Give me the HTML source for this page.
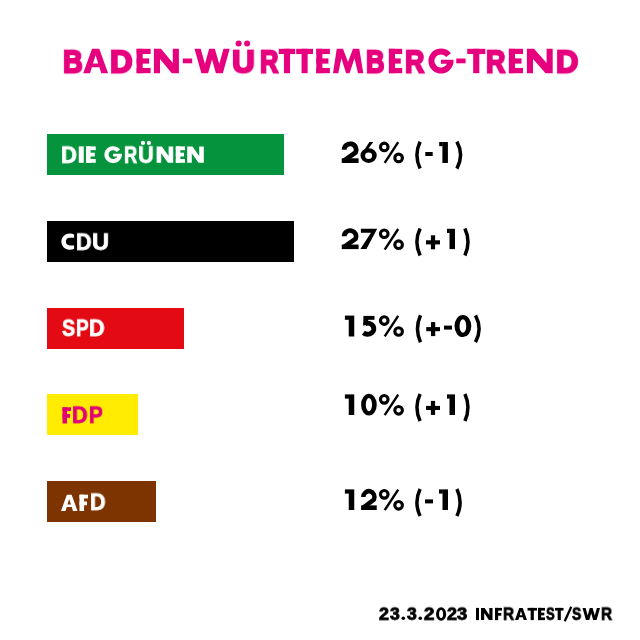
<!DOCTYPE html>
<html><head><meta charset="utf-8"><style>
html,body{margin:0;padding:0;background:#fff;width:640px;height:640px;overflow:hidden;position:relative}
.t{position:absolute;will-change:transform;font-family:"Liberation Sans",sans-serif;font-weight:bold;line-height:1.5;white-space:pre;transform-origin:0 0}
.b{position:absolute}
svg{position:absolute;left:0;top:0}
</style></head><body>
<div class="b" style="background:#05933d;left:47px;top:134px;width:237px;height:41px"></div>
<div class="b" style="background:#000;left:47px;top:221px;width:247px;height:41px"></div>
<div class="b" style="background:#e30a14;left:47px;top:308px;width:137px;height:41px"></div>
<div class="b" style="background:#ffec00;left:47px;top:394px;width:91px;height:41px"></div>
<div class="b" style="background:#7d3400;left:47px;top:481px;width:109px;height:41px"></div>
<svg width="640" height="640" viewBox="0 0 640 640">
<path d="M83.20 73.20 L92.04 48.80 L99.26 48.80 L108.10 73.20 L101.28 73.20 L99.41 67.27 L91.84 67.27 L90.02 73.20 Z M95.55 55.22 L98.21 63.56 L92.99 63.56 Z" fill="#e6007e" fill-rule="evenodd"/>
<rect x="136.60" y="48.80" width="6.10" height="24.40" fill="#e6007e"/>
<rect x="136.60" y="48.80" width="14.00" height="5.25" fill="#e6007e"/>
<rect x="136.60" y="58.38" width="12.54" height="5.25" fill="#e6007e"/>
<rect x="136.60" y="67.95" width="14.00" height="5.25" fill="#e6007e"/>
<path d="M153.90 73.20 L153.90 48.80 L161.00 48.80 L172.80 62.95 L172.80 48.80 L178.90 48.80 L178.90 73.20 L171.80 73.20 L160.00 59.05 L160.00 73.20 Z" fill="#e6007e" fill-rule="evenodd"/>
<path d="M194.50 48.80 L200.73 48.80 L204.92 63.98 L209.14 48.80 L214.78 48.80 L219.28 63.98 L223.47 48.80 L229.70 48.80 L222.84 73.20 L215.94 73.20 L211.99 59.54 L208.09 73.20 L201.40 73.20 Z" fill="#e6007e" fill-rule="evenodd"/>
<rect x="278.80" y="48.80" width="16.40" height="5.25" fill="#e6007e"/>
<rect x="283.95" y="48.80" width="6.10" height="24.40" fill="#e6007e"/>
<rect x="296.20" y="48.80" width="16.80" height="5.25" fill="#e6007e"/>
<rect x="301.55" y="48.80" width="6.10" height="24.40" fill="#e6007e"/>
<rect x="316.30" y="48.80" width="6.10" height="24.40" fill="#e6007e"/>
<rect x="316.30" y="48.80" width="13.60" height="5.25" fill="#e6007e"/>
<rect x="316.30" y="58.38" width="12.14" height="5.25" fill="#e6007e"/>
<rect x="316.30" y="67.95" width="13.60" height="5.25" fill="#e6007e"/>
<path d="M333.00 73.20 L336.76 48.80 L343.00 48.80 L348.00 62.07 L353.00 48.80 L359.24 48.80 L363.30 73.20 L358.00 73.20 L354.51 58.32 L349.60 73.20 L346.09 73.20 L341.39 58.32 L338.30 73.20 Z" fill="#e6007e" fill-rule="evenodd"/>
<rect x="388.90" y="48.80" width="6.10" height="24.40" fill="#e6007e"/>
<rect x="388.90" y="48.80" width="13.30" height="5.25" fill="#e6007e"/>
<rect x="388.90" y="58.38" width="11.84" height="5.25" fill="#e6007e"/>
<rect x="388.90" y="67.95" width="13.30" height="5.25" fill="#e6007e"/>
<g transform="translate(428.40,48.43) scale(25.20000,25.13200)"><path d="M0.894 0.192 A0.5 0.5 0 1 0 0.9975 0.45 L0.5 0.45 L0.5 0.611 L0.737 0.611 A0.262 0.262 0 1 1 0.706 0.339 Z" fill="#e6007e"/></g>
<rect x="467.20" y="48.80" width="18.10" height="5.25" fill="#e6007e"/>
<rect x="473.20" y="48.80" width="6.10" height="24.40" fill="#e6007e"/>
<rect x="508.90" y="48.80" width="6.10" height="24.40" fill="#e6007e"/>
<rect x="508.90" y="48.80" width="14.10" height="5.25" fill="#e6007e"/>
<rect x="508.90" y="58.38" width="12.64" height="5.25" fill="#e6007e"/>
<rect x="508.90" y="67.95" width="14.10" height="5.25" fill="#e6007e"/>
<path d="M526.90 73.20 L526.90 48.80 L534.02 48.80 L546.61 62.95 L546.61 48.80 L552.70 48.80 L552.70 73.20 L545.58 73.20 L532.99 59.05 L532.99 73.20 Z" fill="#e6007e" fill-rule="evenodd"/>
<rect x="182.80" y="58.50" width="9.40" height="4.80" fill="#e6007e"/>
<circle cx="238.6" cy="43.4" r="3.0" fill="#e6007e"/><circle cx="247.1" cy="43.4" r="3.0" fill="#e6007e"/>
<rect x="456.25" y="58.50" width="9.35" height="4.80" fill="#e6007e"/>
<rect x="78.75" y="146.40" width="5.00" height="16.40" fill="#fff"/>
<rect x="86.00" y="146.40" width="4.59" height="16.40" fill="#fff"/>
<rect x="86.00" y="146.40" width="9.75" height="3.77" fill="#fff"/>
<rect x="86.00" y="152.71" width="8.77" height="3.77" fill="#fff"/>
<rect x="86.00" y="159.03" width="9.75" height="3.77" fill="#fff"/>
<g transform="translate(104.40,146.15) scale(17.50000,16.89200)"><path d="M0.894 0.192 A0.5 0.5 0 1 0 0.9975 0.45 L0.5 0.45 L0.5 0.611 L0.737 0.611 A0.262 0.262 0 1 1 0.706 0.339 Z" fill="#fff"/></g>
<path d="M156.60 162.80 L156.60 146.40 L161.86 146.40 L168.60 155.91 L168.60 146.40 L173.20 146.40 L173.20 162.80 L167.94 162.80 L161.20 153.29 L161.20 162.80 Z" fill="#fff" fill-rule="evenodd"/>
<rect x="175.80" y="146.40" width="4.59" height="16.40" fill="#fff"/>
<rect x="175.80" y="146.40" width="9.20" height="3.77" fill="#fff"/>
<rect x="175.80" y="152.71" width="8.22" height="3.77" fill="#fff"/>
<rect x="175.80" y="159.03" width="9.20" height="3.77" fill="#fff"/>
<path d="M187.20 162.80 L187.20 146.40 L192.46 146.40 L199.20 155.91 L199.20 146.40 L203.80 146.40 L203.80 162.80 L198.54 162.80 L191.80 153.29 L191.80 162.80 Z" fill="#fff" fill-rule="evenodd"/>
<circle cx="143" cy="142.9" r="2.1" fill="#fff"/><circle cx="148.9" cy="142.9" r="2.1" fill="#fff"/>
<g transform="translate(61.40,233.40) scale(1.00000,0.95349)"><path d="M12.7 1.153 L12.7 4.6 L8.5 4.6 A4 4 0 0 0 8.5 12.6 L12.7 12.6 L12.7 16.047 A8.55 8.55 0 1 1 12.7 1.153 Z" fill="#fff"/></g>
<rect x="62.50" y="407.30" width="4.54" height="16.20" fill="#e2007a"/>
<rect x="62.50" y="407.30" width="8.50" height="3.73" fill="#e2007a"/>
<rect x="62.50" y="414.02" width="7.53" height="3.73" fill="#e2007a"/>
<path d="M61.00 511.00 L66.86 494.70 L71.64 494.70 L77.50 511.00 L72.98 511.00 L71.74 507.04 L66.73 507.04 L65.52 511.00 Z M69.18 498.99 L70.95 504.56 L67.48 504.56 Z" fill="#fff" fill-rule="evenodd"/>
<rect x="79.50" y="494.70" width="4.56" height="16.30" fill="#fff"/>
<rect x="79.50" y="494.70" width="8.50" height="3.75" fill="#fff"/>
<rect x="79.50" y="501.46" width="7.52" height="3.75" fill="#fff"/>
<g transform="translate(341.75,142.00) scale(1.0000,1.0000)"><path d="M2.4 7.8 A6 6 0 1 1 13.84 10.34 L2.4 18.6" stroke="#000" stroke-width="4.8" fill="none" stroke-linejoin="miter"/><rect x="0" y="16.3" width="16.85" height="4.7" fill="#000"/></g>
<g transform="translate(360.50,142.00) scale(1.0000,1.0000)"><path fill-rule="evenodd" fill="#000" d="M0 13.6 a8.125 7.4 0 1 0 16.25 0 a8.125 7.4 0 1 0 -16.25 0 Z M4.6 13.8 a3.5 3.3 0 1 0 7 0 a3.5 3.3 0 1 0 -7 0 Z"/><path d="M8.9 0 L12.8 0 L5.75 9.6 L0.1 13.6 Z" fill="#000"/></g>
<g transform="translate(378.60,142.00)"><circle cx="5.65" cy="4.95" r="3.8" stroke="#000" stroke-width="3.1" fill="none"/><circle cx="20.0" cy="15.9" r="3.8" stroke="#000" stroke-width="3.1" fill="none"/><path d="M19.6 0.2 L6.1 20.8" stroke="#000" stroke-width="2.4"/></g>
<path d="M420.10 141.70 Q413.70 155.15 420.10 168.60" stroke="#000" stroke-width="3.5" fill="none"/>
<rect x="425.30" y="152.00" width="7.40" height="4.00" fill="#000"/>
<rect x="442.40" y="142.00" width="5.50" height="21.00" fill="#000"/>
<rect x="439.20" y="142.00" width="3.50" height="4.20" fill="#000"/>
<path d="M456.90 141.70 Q464.30 155.15 456.90 168.60" stroke="#000" stroke-width="3.5" fill="none"/>
<g transform="translate(341.75,228.80) scale(1.0000,0.9667)"><path d="M2.4 7.8 A6 6 0 1 1 13.84 10.34 L2.4 18.6" stroke="#000" stroke-width="4.8" fill="none" stroke-linejoin="miter"/><rect x="0" y="16.3" width="16.85" height="4.7" fill="#000"/></g>
<g transform="translate(360.40,228.80) scale(0.9941,1.0000)"><path d="M0.5 0 L16.9 0 L6.1 20.3 L0 20.3 L10.6 3.9 L0.5 3.9 Z" fill="#000"/></g>
<g transform="translate(378.60,228.80)"><circle cx="5.65" cy="4.95" r="3.8" stroke="#000" stroke-width="3.1" fill="none"/><circle cx="20.0" cy="15.9" r="3.8" stroke="#000" stroke-width="3.1" fill="none"/><path d="M19.6 0.2 L6.1 20.8" stroke="#000" stroke-width="2.4"/></g>
<path d="M420.10 228.50 Q413.70 241.95 420.10 255.40" stroke="#000" stroke-width="3.5" fill="none"/>
<rect x="426.00" y="240.30" width="14.00" height="4.10" fill="#000"/>
<rect x="430.90" y="235.30" width="4.20" height="14.00" fill="#000"/>
<rect x="449.50" y="228.80" width="5.50" height="20.30" fill="#000"/>
<rect x="447.00" y="228.80" width="2.80" height="4.20" fill="#000"/>
<path d="M464.90 228.50 Q471.10 241.95 464.90 255.40" stroke="#000" stroke-width="3.5" fill="none"/>
<g transform="translate(361.20,315.60) scale(1.0000,1.0000)"><rect x="2.5" y="0.3" width="10.8" height="3.9" fill="#000"/><path d="M2.5 0.3 L7.1 0.3 L6.8 9.3 L1.8 9.8 Z" fill="#000"/><path d="M4.35 7.9 A6.3 5.5 0 1 1 2.2 17.2" stroke="#000" stroke-width="5.0" fill="none"/></g>
<path fill-rule="evenodd" fill="#000" d="M454.50 326.05 a8.40 11.05 0 1 0 16.80 0 a8.40 11.05 0 1 0 -16.80 0 Z M459.54 326.05 a3.36 6.69 0 1 0 6.72 0 a3.36 6.69 0 1 0 -6.72 0 Z"/>
<rect x="348.75" y="315.60" width="5.50" height="20.90" fill="#000"/>
<rect x="344.90" y="315.60" width="4.15" height="4.20" fill="#000"/>
<g transform="translate(378.60,315.60)"><circle cx="5.65" cy="4.95" r="3.8" stroke="#000" stroke-width="3.1" fill="none"/><circle cx="20.0" cy="15.9" r="3.8" stroke="#000" stroke-width="3.1" fill="none"/><path d="M19.6 0.2 L6.1 20.8" stroke="#000" stroke-width="2.4"/></g>
<path d="M420.50 315.30 Q414.50 328.75 420.50 342.20" stroke="#000" stroke-width="3.5" fill="none"/>
<rect x="426.25" y="327.10" width="13.75" height="4.10" fill="#000"/>
<rect x="431.02" y="322.10" width="4.20" height="14.00" fill="#000"/>
<rect x="444.00" y="325.60" width="8.00" height="4.00" fill="#000"/>
<path d="M475.50 315.30 Q482.70 328.75 475.50 342.20" stroke="#000" stroke-width="3.5" fill="none"/>
<path fill-rule="evenodd" fill="#000" d="M361.10 404.70 a7.82 10.90 0 1 0 15.65 0 a7.82 10.90 0 1 0 -15.65 0 Z M365.80 404.70 a3.13 6.59 0 1 0 6.26 0 a3.13 6.59 0 1 0 -6.26 0 Z"/>
<rect x="348.75" y="394.40" width="5.50" height="20.60" fill="#000"/>
<rect x="344.90" y="394.40" width="4.15" height="4.20" fill="#000"/>
<g transform="translate(378.60,394.40)"><circle cx="5.65" cy="4.95" r="3.8" stroke="#000" stroke-width="3.1" fill="none"/><circle cx="20.0" cy="15.9" r="3.8" stroke="#000" stroke-width="3.1" fill="none"/><path d="M19.6 0.2 L6.1 20.8" stroke="#000" stroke-width="2.4"/></g>
<path d="M420.10 394.10 Q413.70 407.55 420.10 421.00" stroke="#000" stroke-width="3.5" fill="none"/>
<rect x="426.00" y="405.90" width="14.00" height="4.10" fill="#000"/>
<rect x="430.90" y="400.90" width="4.20" height="14.00" fill="#000"/>
<rect x="449.50" y="394.40" width="5.50" height="20.60" fill="#000"/>
<rect x="447.00" y="394.40" width="2.80" height="4.20" fill="#000"/>
<path d="M464.90 394.10 Q471.10 407.55 464.90 421.00" stroke="#000" stroke-width="3.5" fill="none"/>
<g transform="translate(361.10,489.40) scale(0.9288,0.9810)"><path d="M2.4 7.8 A6 6 0 1 1 13.84 10.34 L2.4 18.6" stroke="#000" stroke-width="4.8" fill="none" stroke-linejoin="miter"/><rect x="0" y="16.3" width="16.85" height="4.7" fill="#000"/></g>
<rect x="348.75" y="489.40" width="5.50" height="20.60" fill="#000"/>
<rect x="344.90" y="489.40" width="4.15" height="4.20" fill="#000"/>
<g transform="translate(378.60,489.40)"><circle cx="5.65" cy="4.95" r="3.8" stroke="#000" stroke-width="3.1" fill="none"/><circle cx="20.0" cy="15.9" r="3.8" stroke="#000" stroke-width="3.1" fill="none"/><path d="M19.6 0.2 L6.1 20.8" stroke="#000" stroke-width="2.4"/></g>
<path d="M420.10 489.10 Q413.70 502.55 420.10 516.00" stroke="#000" stroke-width="3.5" fill="none"/>
<rect x="425.00" y="499.40" width="8.00" height="4.00" fill="#000"/>
<rect x="442.50" y="489.40" width="5.50" height="20.60" fill="#000"/>
<rect x="439.00" y="489.40" width="3.80" height="4.20" fill="#000"/>
<path d="M456.90 489.10 Q463.30 502.55 456.90 516.00" stroke="#000" stroke-width="3.5" fill="none"/>
<rect x="476.00" y="607.90" width="3.00" height="12.20" fill="#000"/>
<path d="M481.00 620.10 L481.00 607.90 L484.63 607.90 L489.33 614.98 L489.33 607.90 L492.50 607.90 L492.50 620.10 L488.87 620.10 L484.17 613.02 L484.17 620.10 Z" fill="#000" fill-rule="evenodd"/>
<rect x="495.00" y="607.90" width="3.17" height="12.20" fill="#000"/>
<rect x="495.00" y="607.90" width="7.00" height="2.68" fill="#000"/>
<rect x="495.00" y="613.02" width="6.27" height="2.68" fill="#000"/>
<path d="M515.00 620.10 L519.26 607.90 L522.74 607.90 L527.00 620.10 L523.71 620.10 L522.81 617.14 L519.16 617.14 L518.29 620.10 Z M520.95 611.11 L522.24 615.28 L519.72 615.28 Z" fill="#000" fill-rule="evenodd"/>
<rect x="527.50" y="607.90" width="9.50" height="2.68" fill="#000"/>
<rect x="530.66" y="607.90" width="3.17" height="12.20" fill="#000"/>
<rect x="538.00" y="607.90" width="3.17" height="12.20" fill="#000"/>
<rect x="538.00" y="607.90" width="7.00" height="2.68" fill="#000"/>
<rect x="538.00" y="612.66" width="6.27" height="2.68" fill="#000"/>
<rect x="538.00" y="617.42" width="7.00" height="2.68" fill="#000"/>
<rect x="555.00" y="607.90" width="8.50" height="2.68" fill="#000"/>
<rect x="557.66" y="607.90" width="3.17" height="12.20" fill="#000"/>
<path d="M582.50 607.90 L585.60 607.90 L587.68 615.49 L589.78 607.90 L592.58 607.90 L594.82 615.49 L596.90 607.90 L600.00 607.90 L596.59 620.10 L593.16 620.10 L591.20 613.27 L589.25 620.10 L585.93 620.10 Z" fill="#000" fill-rule="evenodd"/>
<path fill-rule="evenodd" fill="#000" d="M436.00 614.00 a5.10 6.70 0 1 0 10.20 0 a5.10 6.70 0 1 0 -10.20 0 Z M439.06 614.00 a2.04 4.05 0 1 0 4.08 0 a2.04 4.05 0 1 0 -4.08 0 Z"/>
<path d="M571.25 606.75 L564.75 621.25" stroke="#000" stroke-width="2.3"/>
<circle cx="403.25" cy="618.2" r="1.8" fill="#000"/><circle cx="420.25" cy="618.2" r="1.8" fill="#000"/>
</svg>
<div class="t" style="left:62.57px;top:36.89px;font-size:35.36px;transform:scale(0.7705,0.9091);color:#e6007e;-webkit-text-stroke:2.44px #e6007e">B</div>
<div class="t" style="left:110.35px;top:36.89px;font-size:35.36px;transform:scale(0.8847,0.9091);color:#e6007e;-webkit-text-stroke:2.44px #e6007e">D</div>
<div class="t" style="left:232.30px;top:36.89px;font-size:35.36px;transform:scale(0.8919,0.9091);color:#e6007e;-webkit-text-stroke:2.44px #e6007e">U</div>
<div class="t" style="left:259.72px;top:36.89px;font-size:35.36px;transform:scale(0.7190,0.9091);color:#e6007e;-webkit-text-stroke:2.44px #e6007e">R</div>
<div class="t" style="left:366.02px;top:36.89px;font-size:35.36px;transform:scale(0.7247,0.9091);color:#e6007e;-webkit-text-stroke:2.44px #e6007e">B</div>
<div class="t" style="left:405.44px;top:36.89px;font-size:35.36px;transform:scale(0.7532,0.9091);color:#e6007e;-webkit-text-stroke:2.44px #e6007e">R</div>
<div class="t" style="left:486.19px;top:36.89px;font-size:35.36px;transform:scale(0.7552,0.9091);color:#e6007e;-webkit-text-stroke:2.44px #e6007e">R</div>
<div class="t" style="left:555.66px;top:36.89px;font-size:35.36px;transform:scale(0.8723,0.9091);color:#e6007e;-webkit-text-stroke:2.44px #e6007e">D</div>
<div class="t" style="left:60.70px;top:137.62px;font-size:23.77px;transform:scale(0.9231,0.9524);color:#fff;-webkit-text-stroke:0.82px #fff">D</div>
<div class="t" style="left:123.63px;top:137.62px;font-size:23.77px;transform:scale(0.7698,0.9524);color:#fff;-webkit-text-stroke:0.82px #fff">R</div>
<div class="t" style="left:138.27px;top:137.62px;font-size:23.77px;transform:scale(0.9151,0.9524);color:#fff;-webkit-text-stroke:0.82px #fff">U</div>
<div class="t" style="left:75.97px;top:224.62px;font-size:23.77px;transform:scale(0.9069,0.9524);color:#fff;-webkit-text-stroke:0.82px #fff">D</div>
<div class="t" style="left:91.99px;top:224.62px;font-size:23.77px;transform:scale(0.9946,0.9524);color:#fff;-webkit-text-stroke:0.82px #fff">U</div>
<div class="t" style="left:61.75px;top:311.83px;font-size:23.48px;transform:scale(0.8391,0.9524);color:#fff;-webkit-text-stroke:0.81px #fff">S</div>
<div class="t" style="left:75.59px;top:311.83px;font-size:23.48px;transform:scale(0.8103,0.9524);color:#fff;-webkit-text-stroke:0.81px #fff">P</div>
<div class="t" style="left:88.97px;top:311.83px;font-size:23.48px;transform:scale(0.9181,0.9524);color:#fff;-webkit-text-stroke:0.81px #fff">D</div>
<div class="t" style="left:71.97px;top:398.63px;font-size:23.48px;transform:scale(0.9181,0.9524);color:#e2007a;-webkit-text-stroke:0.81px #e2007a">D</div>
<div class="t" style="left:89.01px;top:398.63px;font-size:23.48px;transform:scale(0.8807,0.9524);color:#e2007a;-webkit-text-stroke:0.81px #e2007a">P</div>
<div class="t" style="left:89.97px;top:485.98px;font-size:23.62px;transform:scale(0.9125,0.9524);color:#fff;-webkit-text-stroke:0.82px #fff">D</div>
<div class="t" style="left:379.30px;top:601.61px;font-size:17.68px;transform:scale(1.0170,0.9346);color:#000;-webkit-text-stroke:0.85px #000">2</div>
<div class="t" style="left:390.49px;top:601.61px;font-size:17.68px;transform:scale(0.9889,0.9346);color:#000;-webkit-text-stroke:0.85px #000">3</div>
<div class="t" style="left:406.99px;top:601.61px;font-size:17.68px;transform:scale(0.9889,0.9346);color:#000;-webkit-text-stroke:0.85px #000">3</div>
<div class="t" style="left:424.29px;top:601.61px;font-size:17.68px;transform:scale(1.0706,0.9346);color:#000;-webkit-text-stroke:0.85px #000">2</div>
<div class="t" style="left:446.80px;top:601.61px;font-size:17.68px;transform:scale(1.0170,0.9346);color:#000;-webkit-text-stroke:0.85px #000">2</div>
<div class="t" style="left:457.48px;top:601.61px;font-size:17.68px;transform:scale(1.0410,0.9346);color:#000;-webkit-text-stroke:0.85px #000">3</div>
<div class="t" style="left:503.37px;top:601.61px;font-size:17.68px;transform:scale(0.8691,0.9346);color:#000;-webkit-text-stroke:0.85px #000">R</div>
<div class="t" style="left:546.42px;top:601.61px;font-size:17.68px;transform:scale(0.7415,0.9346);color:#000;-webkit-text-stroke:0.85px #000">S</div>
<div class="t" style="left:572.42px;top:601.61px;font-size:17.68px;transform:scale(0.7852,0.9346);color:#000;-webkit-text-stroke:0.85px #000">S</div>
<div class="t" style="left:600.87px;top:601.61px;font-size:17.68px;transform:scale(0.8691,0.9346);color:#000;-webkit-text-stroke:0.85px #000">R</div>
</body></html>
